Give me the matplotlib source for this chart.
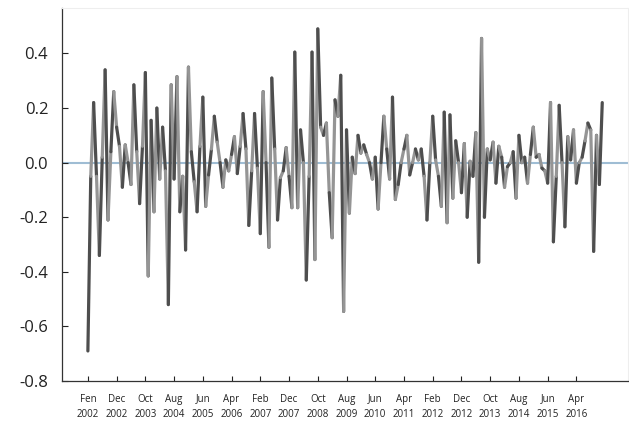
import numpy as np
import matplotlib
matplotlib.use("Agg")
import matplotlib.pyplot as plt
from matplotlib.collections import LineCollection

plt.rcParams['font.family'] = ['Open Sans', 'DejaVu Sans']

# monthly values, Feb 2002 onwards
values = [
    -0.69, -0.05, 0.22, -0.05, -0.34, 0.02, 0.34, -0.21, 0.04, 0.26,
    0.13, 0.06, -0.09, 0.065, 0.00, -0.08, 0.285, 0.04, -0.15, 0.06,
    0.33, -0.415, 0.155, -0.18, 0.20, -0.06, 0.13, -0.03, -0.52, 0.285,
    -0.06, 0.315, -0.18, -0.05, -0.32, 0.35, 0.04, -0.07, -0.18, 0.06,
    0.24, -0.16, -0.045, 0.05, 0.17, 0.075, 0.00, -0.09, 0.01, -0.03,
    0.03, 0.095, -0.04, 0.06, 0.18, 0.05, -0.23, -0.03, 0.18, -0.02,
    -0.26, 0.26, 0.00, -0.31, 0.31, 0.05, -0.21, -0.055, -0.03, 0.055,
    -0.05, -0.165, 0.405, -0.165, 0.12, 0.00, -0.43, -0.05, 0.405, -0.355,
    0.49, 0.13, 0.10, 0.145, -0.11, -0.275, 0.23, 0.17, 0.32, -0.545,
    0.12, -0.185, 0.02, -0.04, 0.10, 0.035, 0.065, 0.03, 0.00, -0.06,
    0.02, -0.17, 0.00, 0.17, 0.05, -0.06, 0.24, -0.135, -0.08, 0.00,
    0.05, 0.10, -0.045, 0.00, 0.05, 0.01, 0.05, -0.05, -0.21, 0.00,
    0.17, 0.01, -0.05, -0.16, 0.185, -0.22, 0.175, -0.13, 0.08, 0.00,
    -0.11, 0.07, -0.20, 0.005, -0.05, 0.11, -0.365, 0.455, -0.20, 0.05,
    0.01, 0.075, -0.075, 0.06, 0.02, -0.09, -0.015, 0.00, 0.04, -0.13,
    0.10, 0.00, 0.02, -0.075, 0.03, 0.13, 0.02, 0.03, -0.02, -0.03,
    -0.075, 0.22, -0.29, -0.05, 0.21, 0.00, -0.235, 0.095, 0.01, 0.12,
    -0.075, 0.00, 0.02, 0.08, 0.145, 0.12, -0.325, 0.10, -0.08, 0.22,
]

tick_labels = [
    "Fen\n2002", "Dec\n2002", "Oct\n2003", "Aug\n2004", "Jun\n2005", "Apr\n2006",
    "Feb\n2007", "Dec\n2007", "Oct\n2008", "Aug\n2009", "Jun\n2010", "Apr\n2011",
    "Feb\n2012", "Dec\n2012", "Oct\n2013", "Aug\n2014", "Jun\n2015", "Apr\n2016",
]
tick_step = 10  # months between labels

x = np.arange(len(values))
y = np.array(values)

fig = plt.figure(figsize=(6.29, 4.24), dpi=100)
ax = fig.add_axes([0.0986, 0.1014, 0.9, 0.88])

ax.axhline(0, color="#9fbdd4", lw=1.5, zorder=1)

pts = np.column_stack([x, y]).reshape(-1, 1, 2)
segs = np.concatenate([pts[:-1], pts[1:]], axis=1)
cols = ["#4e4e4e" if i % 2 == 0 else "#959595" for i in range(len(segs))]
lc = LineCollection(segs, colors=cols, linewidths=2.3, capstyle="round",
                    joinstyle="round", zorder=2)
ax.add_collection(lc)

ax.set_xlim(-9, 188)
ax.set_ylim(-0.8, 0.567)

ax.set_xticks(np.arange(len(tick_labels)) * tick_step)
ax.set_xticklabels(tick_labels, fontsize=7, linespacing=1.6)
ax.set_yticks([-0.8, -0.6, -0.4, -0.2, 0.0, 0.2, 0.4])
ax.set_yticklabels(["-0.8", "-0.6", "-0.4", "-0.2", "0.0", "0.2", "0.4"], fontsize=12)

ax.tick_params(axis="x", direction="in", length=3.5, width=0.8, pad=9, colors="#222222")
ax.tick_params(axis="y", direction="in", length=4.5, width=0.8, pad=10, colors="#222222")

for s in ["left", "bottom"]:
    ax.spines[s].set_color("#333333")
    ax.spines[s].set_linewidth(0.9)
for s in ["top", "right"]:
    ax.spines[s].set_color("#eeeeee")
    ax.spines[s].set_linewidth(0.8)

fig.savefig("out.png", dpi=100)
